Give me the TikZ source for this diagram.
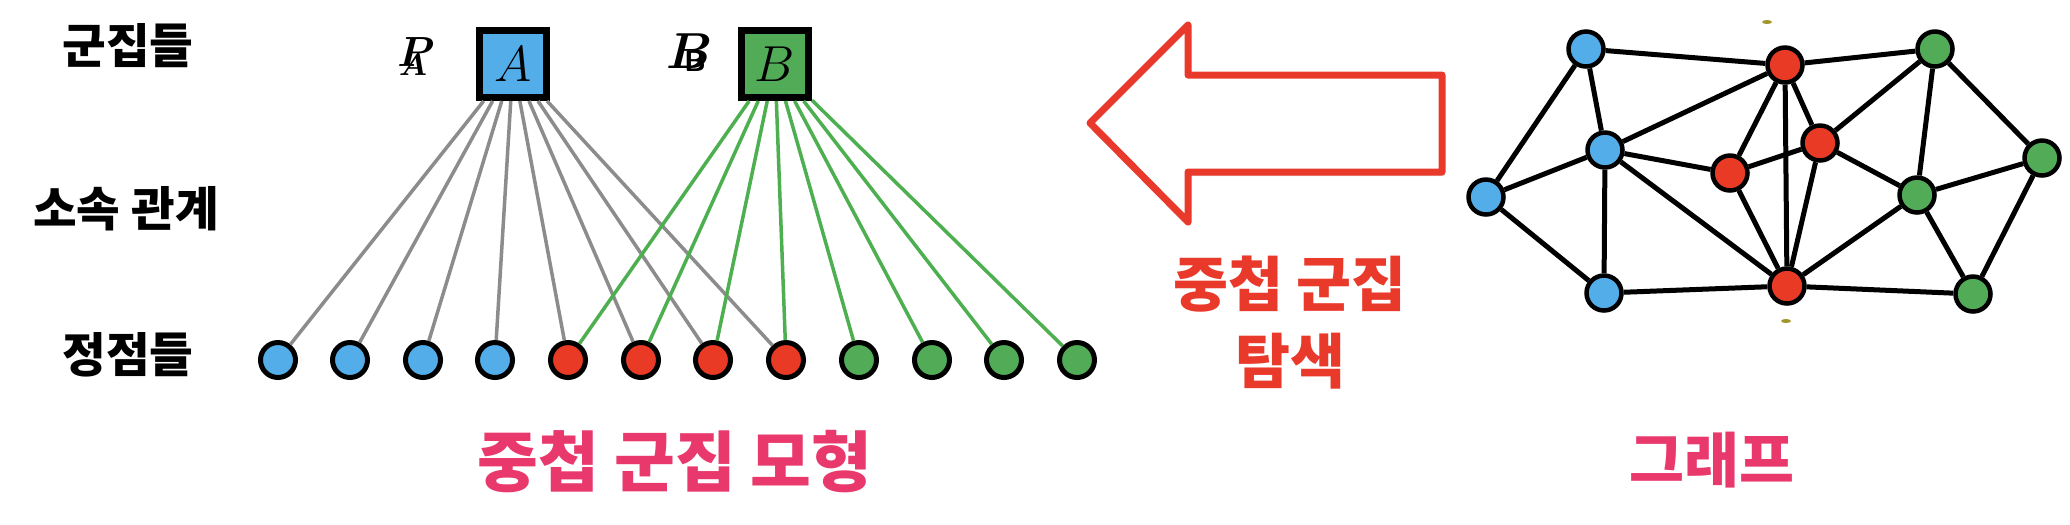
\documentclass[tikz,border=0pt]{standalone}
\usepackage{fontspec}
\newfontfamily\kr{Noto Sans CJK KR}
\usetikzlibrary{shadows}
\definecolor{vblue}{HTML}{52ADE9}
\definecolor{vred}{HTML}{E83A24}
\definecolor{vgreen}{HTML}{52AB57}
\definecolor{linegray}{HTML}{8C8C8C}
\definecolor{linegreen}{HTML}{4DAF50}
\definecolor{arrowred}{HTML}{E8392A}
\definecolor{titlepink}{HTML}{E8386C}
\definecolor{dotolive}{HTML}{A0962A}
\tikzset{
  vert/.style={circle,draw=black,line width=0.5mm,minimum size=3.5mm,inner sep=0pt},
  cluster/.style={rectangle,draw=black,line width=0.7mm,minimum size=6.7mm,inner sep=0pt,
    font=\fontsize{14.5}{17}\selectfont},
  gnode/.style={circle,draw=black,line width=0.45mm,minimum size=3.5mm,inner sep=0pt},
  member/.style={line width=0.35mm},
  gedge/.style={line width=0.5mm},
  rowlabel/.style={font=\kr\bfseries\fontsize{13.5}{16}\selectfont},
}
\begin{document}
\begin{tikzpicture}[x=0.1mm,y=-0.1mm]
        \useasboundingbox (0,0) rectangle (2070,524);
        %% Row labels
        \node[rowlabel] (rowC) at (128,46)  {군집들};
        \node[rowlabel] (rowM) at (126,209) {소속 관계};
        \node[rowlabel] (rowV) at (128,355) {정점들};
        %% Clusters
        \node[cluster,fill=vblue]  (cA) at (513,64) {$A$};
        \node[cluster,fill=vgreen] (cB) at (775,64) {$B$};
        \node[font=\fontsize{13}{15}\selectfont\boldmath] (labP) at (416,52) {$P$};
        \node[font=\fontsize{9.5}{11}\selectfont\boldmath] (labA) at (413,65) {$A$};
        \node[font=\fontsize{14}{16}\selectfont\boldmath]  (labB) at (690,51) {$B$};
        \node[font=\sffamily\bfseries\fontsize{8.5}{10}\selectfont] (labBB) at (695,61) {B};
        %% Vertices
        \node[vert,fill=vblue]  (v1)  at (278,360) {};
        \node[vert,fill=vblue]  (v2)  at (350,360) {};
        \node[vert,fill=vblue]  (v3)  at (423,360) {};
        \node[vert,fill=vblue]  (v4)  at (495,360) {};
        \node[vert,fill=vred]   (v5)  at (568,360) {};
        \node[vert,fill=vred]   (v6)  at (641,360) {};
        \node[vert,fill=vred]   (v7)  at (713,360) {};
        \node[vert,fill=vred]   (v8)  at (786,360) {};
        \node[vert,fill=vgreen] (v9)  at (859,360) {};
        \node[vert,fill=vgreen] (v10) at (932,360) {};
        \node[vert,fill=vgreen] (v11) at (1004,360) {};
        \node[vert,fill=vgreen] (v12) at (1077,360) {};
        %% Memberships
        \draw[member,linegray] (cA) -- (v1);
        \draw[member,linegray] (cA) -- (v2);
        \draw[member,linegray] (cA) -- (v3);
        \draw[member,linegray] (cA) -- (v4);
        \draw[member,linegray] (cA) -- (v5);
        \draw[member,linegray] (cA) -- (v6);
        \draw[member,linegray] (cA) -- (v7);
        \draw[member,linegray] (cA) -- (v8);
        \draw[member,linegreen] (cB) -- (v5);
        \draw[member,linegreen] (cB) -- (v6);
        \draw[member,linegreen] (cB) -- (v7);
        \draw[member,linegreen] (cB) -- (v8);
        \draw[member,linegreen] (cB) -- (v9);
        \draw[member,linegreen] (cB) -- (v10);
        \draw[member,linegreen] (cB) -- (v11);
        \draw[member,linegreen] (cB) -- (v12);
        \node[font=\kr\bfseries\fontsize{18.8}{21}\selectfont,text=titlepink] (titleModel) at (675,462) {중첩 군집 모형};
        %% Arrow
        \draw[line width=0.7mm,arrowred,line join=round,fill=white,
              drop shadow={opacity=0.25,shadow xshift=0.3mm,shadow yshift=-0.4mm}]
          (1090,123) -- (1188,25) -- (1188,75) -- (1442,75) -- (1442,172)
          -- (1188,172) -- (1188,222) -- cycle;
        \node[font=\kr\bfseries\fontsize{17}{21.9}\selectfont,text=arrowred,align=center] (search) at (1290,323) {중첩 군집\\탐색};
        %% Graph
        \node[gnode,fill=vblue]  (g1)  at (1586,49)  {};
        \node[gnode,fill=vred]   (g2)  at (1785,65)  {};
        \node[gnode,fill=vgreen] (g3)  at (1935,49)  {};
        \node[gnode,fill=vblue]  (g4)  at (1605,150) {};
        \node[gnode,fill=vred]   (g5)  at (1820,143) {};
        \node[gnode,fill=vred]   (g6)  at (1730,173) {};
        \node[gnode,fill=vblue]  (g7)  at (1486,197) {};
        \node[gnode,fill=vgreen] (g8)  at (2042,158) {};
        \node[gnode,fill=vgreen] (g9)  at (1917,195) {};
        \node[gnode,fill=vblue]  (g10) at (1604,293) {};
        \node[gnode,fill=vred]   (g11) at (1787,286) {};
        \node[gnode,fill=vgreen] (g12) at (1973,294) {};
        \draw[gedge] (g1) -- (g2);
        \draw[gedge] (g2) -- (g3);
        \draw[gedge] (g1) -- (g7);
        \draw[gedge] (g1) -- (g4);
        \draw[gedge] (g4) -- (g2);
        \draw[gedge] (g4) -- (g7);
        \draw[gedge] (g4) -- (g6);
        \draw[gedge] (g4) -- (g10);
        \draw[gedge] (g4) -- (g11);
        \draw[gedge] (g7) -- (g10);
        \draw[gedge] (g10) -- (g11);
        \draw[gedge] (g2) -- (g6);
        \draw[gedge] (g2) -- (g11);
        \draw[gedge] (g2) -- (g5);
        \draw[gedge] (g6) -- (g5);
        \draw[gedge] (g6) -- (g11);
        \draw[gedge] (g5) -- (g11);
        \draw[gedge] (g5) -- (g3);
        \draw[gedge] (g5) -- (g9);
        \draw[gedge] (g3) -- (g9);
        \draw[gedge] (g3) -- (g8);
        \draw[gedge] (g9) -- (g8);
        \draw[gedge] (g9) -- (g11);
        \draw[gedge] (g9) -- (g12);
        \draw[gedge] (g8) -- (g12);
        \draw[gedge] (g11) -- (g12);
        \fill[dotolive] (1767,22)  ellipse [x radius=0.5mm,y radius=0.2mm];
        \fill[dotolive] (1786,321) ellipse [x radius=0.5mm,y radius=0.2mm];
        \node[font=\kr\bfseries\fontsize{17}{20}\selectfont,text=titlepink] (titleGraph) at (1712,460) {그래프};
    \end{tikzpicture}
\end{document}
